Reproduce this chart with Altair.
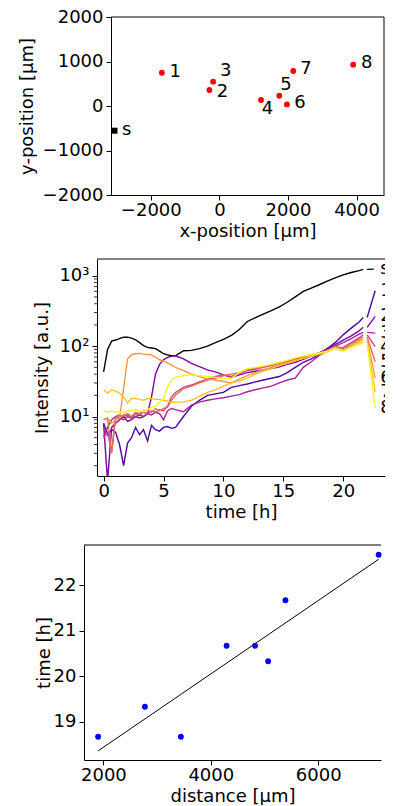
import altair as alt
import pandas as pd

FONT = "DejaVu Sans"
FS = 18

# ---------------- panel 1 : positions ----------------
site_names = ["s", "1", "2", "3", "4", "5", "6", "7", "8"]
site_kind = ["source"] + ["site"] * 8
site_x = [-3058, -1677, -291, -183, 1214, 1747, 1971, 2155, 3902]
site_y = [-555, 748, 360, 546, 135, 231, 36, 787, 928]
site_label_x = [-2842, -1456, -76, 20, 1235, 1776, 2184, 2359, 4126]
site_label_y = [-548, 771, 306, 786, -76, 471, 58, 831, 962]

# ---------------- panel 2 : intensity traces ----------------
T = [0, 0.33, 0.67, 1, 1.33, 1.67, 2, 2.33, 2.67, 3, 3.33, 3.67, 4, 4.33, 4.67, 5, 5.33, 5.67, 6,
     6.67, 7.33, 8, 8.67, 9.33, 10, 10.67, 11.33, 12, 12.67, 13.33, 14, 14.67, 15.33, 16, 16.67,
     17.33, 18, 18.67, 19.33, 20, 20.67, 21.33, 21.67]
I_s = [43, 90, 118, 122, 128, 134, 134, 130, 123, 112, 102, 96, 94, 92, 85, 78, 75, 73, 73,
       86, 87, 92, 100, 112, 125, 142, 172, 224, 255, 285, 320, 360, 420, 500, 600, 665, 745, 840,
       930, 1030, 1110, 1180, 1230]
I_1 = [8, 5.5, 6.5, 6, 4, 2, 4.2, 5, 7, 5.5, 6.5, 4.5, 7.5, 6.5, 6.2, 7, 7.2, 6.8, 7,
       10, 14, 17, 20, 21, 22, 26, 27.5, 29, 31, 33, 35, 37, 42, 50, 59, 66, 76, 92, 112, 145, 180, 220, 255]
I_2 = [8, 1.2, 7, 8, 9, 10, 8.5, 9, 10, 9.5, 10, 11, 19, 40, 55, 64, 69, 72, 73,
       66, 57, 51, 46, 43, 39, 36, 39, 42, 44, 46, 48, 51, 55, 59, 65, 72, 80, 92, 105, 122, 140, 165, 185]
I_3 = [5.2, 7, 9, 10, 9.5, 9, 10, 9.5, 10, 10.5, 10, 11, 10.5, 11.5, 11, 9, 12, 13, 12.5,
       11.7, 14.5, 16, 17, 17.8, 18.5, 19.5, 20.5, 22.5, 24, 25.5, 27, 30, 33, 35, 50, 60, 74, 86, 100, 112, 128, 148, 157]
I_4 = [4.9, 6, 3.2, 10, 10.5, 10, 10.5, 9.5, 11, 10.5, 11.5, 11, 12, 11.5, 12.5, 12, 14, 19, 22,
       26, 28, 31, 34, 37, 39, 37, 41, 45, 47, 50, 53, 57, 60, 64, 69, 74, 80, 87, 97, 95, 112, 132, 145]
I_5 = [9, 9.5, 3.0, 9.5, 10, 10.5, 11, 10, 11.5, 11, 12, 12.5, 11.5, 13, 12, 13, 13.5, 17, 20,
       25, 27, 30, 33, 35, 38, 40, 42, 46, 49, 51, 54, 58, 62, 66, 70, 74, 79, 86, 98, 92, 108, 125, 135]
I_6 = [9, 9.5, 8, 9, 9.5, 25, 66, 75, 78, 79, 77, 76, 75, 70, 64, 61, 58, 54, 50,
       45, 40, 37, 34, 33, 31.5, 30, 34, 38, 42, 46, 50, 55, 58, 63, 67, 72, 77, 84, 95, 88, 102, 118, 125]
I_7 = [24, 21.5, 24, 23, 21.5, 19, 15.5, 18, 18, 17.5, 17, 18, 18, 17.5, 17.5, 17, 16.5, 15.8, 16,
       16, 17, 19.5, 22, 24, 27, 30, 32, 35, 40, 44, 48, 53, 57, 62, 67, 72, 77, 83, 92, 85, 98, 110, 115]
I_8 = [12, 11.5, 12, 11.5, 11.7, 11.5, 12, 12.2, 12.5, 12, 11.7, 12.5, 13.5, 14, 16, 18, 26, 33, 36,
       38, 39, 38, 37, 36, 34.5, 35, 42, 48, 50, 52, 55, 59, 63, 68, 72, 76, 80, 85, 94, 86, 96, 106, 110]
series_names = ["s", "1", "2", "3", "4", "5", "6", "7", "8"]
series_values = [I_s, I_1, I_2, I_3, I_4, I_5, I_6, I_7, I_8]
series_colors = ["#000000", "#4b03a1", "#7d03a8", "#a82296", "#cc4778",
                 "#e56b5d", "#f89540", "#fcc42a", "#f0f921"]
label_values = [1240, 612, 264, 153, 98.6, 60, 35, 22.5, 13.2]
leader_t0 = [22.0] * 9
leader_t1 = [22.55, 22.67, 22.67, 22.67, 22.67, 22.67, 22.67, 22.67, 22.67]
label_t = [23.1] * 9
log_major = [10, 100, 1000]
log_minor = [2, 3, 4, 5, 6, 7, 8, 9, 20, 30, 40, 50, 60, 70, 80, 90,
             200, 300, 400, 500, 600, 700, 800, 900]

# ---------------- panel 3 : arrival time vs distance ----------------
distance = [1901, 2773, 3443, 4294, 4824, 5068, 5390, 7125]
arrival = [18.67, 19.33, 18.67, 20.67, 20.67, 20.33, 21.67, 22.67]

# ---------------- geometry ----------------
W1, H1 = 273, 178
W2, H2 = 288, 217
W3, H3 = 297, 215
PXH2 = 11.98          # pixels per hour, panel 2
PXU3 = 107.4 / 2000   # pixels per micrometre, panel 3

one = pd.DataFrame({"k": [0]})


def frame_top(w):
    return alt.Chart(one).mark_rule(color="black", strokeWidth=1).encode(
        x=alt.value(0), x2=alt.value(w), y=alt.value(0))


# ---- panel 1
df1 = pd.DataFrame({"name": site_names, "kind": site_kind, "x": site_x, "y": site_y,
                    "lx": site_label_x, "ly": site_label_y})
xs1 = alt.Scale(domain=[-3160, 4800], nice=False, zero=False)
ys1 = alt.Scale(domain=[-2000, 2000], nice=False, zero=False)
x1ax = alt.Axis(values=[-2000, 0, 2000, 4000], format="d", title="x-position [μm]",
                titlePadding=3, labelPadding=1)
y1ax = alt.Axis(values=[-2000, -1000, 0, 1000, 2000], format="d", title="y-position [μm]",
                titlePadding=5.3)
b1 = alt.Chart(df1)
p1_sites = b1.transform_filter("datum.kind == 'site'").mark_circle(
    color="red", size=34, opacity=1).encode(
    x=alt.X("x:Q", scale=xs1, axis=x1ax), y=alt.Y("y:Q", scale=ys1, axis=y1ax))
p1_src = b1.transform_filter("datum.kind == 'source'").mark_square(
    color="black", size=36, opacity=1).encode(
    x=alt.X("x:Q", scale=xs1, axis=x1ax), y=alt.Y("y:Q", scale=ys1, axis=y1ax))
p1_text = b1.mark_text(align="left", baseline="middle", font=FONT, fontSize=FS,
                       color="black").encode(
    x=alt.X("lx:Q", scale=xs1, axis=x1ax), y=alt.Y("ly:Q", scale=ys1, axis=y1ax),
    text="name:N")
p1_right = alt.Chart(one).mark_rule(color="black", strokeWidth=1).encode(
    x=alt.value(W1), y=alt.value(0), y2=alt.value(H1))
p1 = alt.layer(p1_sites, p1_src, p1_text, frame_top(W1), p1_right).properties(
    width=W1, height=H1)

# ---- panel 2
rows = []
for name, vals in zip(series_names, series_values):
    for t, v in zip(T, vals):
        rows.append({"series": name, "t": t, "v": v})
df2 = pd.DataFrame(rows)
df2_lead = pd.DataFrame({"series": series_names,
                         "t0": leader_t0, "t1": leader_t1,
                         "v0": [vals[-1] for vals in series_values],
                         "v1": label_values,
                         "lt": label_t})
df2_minor = pd.DataFrame({"m": log_minor})

x2_left = -6.6 / PXH2
xs2 = alt.Scale(domain=[x2_left, x2_left + W2 / PXH2], nice=False, zero=False)
ys2 = alt.Scale(type="log", domain=[1.429, 1729], nice=False)
cs2 = alt.Scale(domain=series_names, range=series_colors)
x2ax = alt.Axis(values=[0, 5, 10, 15, 20], format="d", title="time [h]",
                titlePadding=3, labelPadding=1)
y2ax = alt.Axis(values=log_major, title="Intensity [a.u.]", titlePadding=7,
                labelExpr="datum.value == 10 ? '10¹' : datum.value == 100 ? '10²' : '10³'")

p2_lines = alt.Chart(df2).mark_line(strokeWidth=1.4, clip=True).encode(
    x=alt.X("t:Q", scale=xs2, axis=x2ax),
    y=alt.Y("v:Q", scale=ys2, axis=y2ax),
    color=alt.Color("series:N", scale=cs2, legend=None, sort=series_names))
p2_lead = alt.Chart(df2_lead).mark_rule(strokeWidth=1.4, clip=True).encode(
    x=alt.X("t0:Q", scale=xs2, axis=x2ax), x2="t1:Q",
    y=alt.Y("v0:Q", scale=ys2, axis=y2ax), y2="v1:Q",
    color=alt.Color("series:N", scale=cs2, legend=None))
p2_text = alt.Chart(df2_lead).mark_text(align="left", baseline="middle", font=FONT,
                                        fontSize=FS, color="black", clip=True).encode(
    x=alt.X("lt:Q", scale=xs2, axis=x2ax),
    y=alt.Y("v1:Q", scale=ys2, axis=y2ax),
    text="series:N")
p2_minor = alt.Chart(df2_minor).mark_rule(color="black", strokeWidth=0.8).encode(
    x=alt.value(-3), x2=alt.value(0),
    y=alt.Y("m:Q", scale=ys2, axis=y2ax))
p2 = alt.layer(p2_lines, p2_lead, p2_text, p2_minor, frame_top(W2)).properties(
    width=W2, height=H2)

# ---- panel 3
df3 = pd.DataFrame({"d": distance, "tt": arrival})
x3_left = 2000 - 19.4 / PXU3
xs3 = alt.Scale(domain=[x3_left, x3_left + W3 / PXU3], nice=False, zero=False)
ys3 = alt.Scale(domain=[18.16, 22.884], nice=False, zero=False)
x3ax = alt.Axis(values=[2000, 4000, 6000], format="d", title="distance [μm]",
                titlePadding=3, labelPadding=1)
y3ax = alt.Axis(values=[19, 20, 21, 22], format="d", title="time [h]", titlePadding=0)
p3_pts = alt.Chart(df3).mark_circle(color="blue", size=34, opacity=1).encode(
    x=alt.X("d:Q", scale=xs3, axis=x3ax), y=alt.Y("tt:Q", scale=ys3, axis=y3ax))
p3_fit = alt.Chart(df3).transform_regression("d", "tt").mark_line(
    color="black", strokeWidth=1).encode(
    x=alt.X("d:Q", scale=xs3, axis=x3ax), y=alt.Y("tt:Q", scale=ys3, axis=y3ax))
p3 = alt.layer(p3_fit, p3_pts, frame_top(W3)).properties(width=W3, height=H3)


def spacer(w):
    return alt.Chart(one).mark_point(size=1, opacity=0).encode(
        x=alt.value(0), y=alt.value(0)).properties(width=w, height=1)


row1 = alt.hconcat(spacer(9), p1, spacing=0)
row2 = alt.hconcat(spacer(24), p2, spacing=0)
row3 = alt.hconcat(spacer(25.5), p3, spacing=0)

top = alt.vconcat(row1, row2, spacing=18)
chart = alt.vconcat(top, row3, spacing=23).properties(
    padding={"left": 0, "top": 0, "right": 0, "bottom": 0}
).configure_view(strokeWidth=0).configure_axis(
    labelFont=FONT, labelFontSize=FS, titleFont=FONT, titleFontSize=FS,
    titleFontWeight="normal", labelColor="black", titleColor="black",
    domainColor="black", tickColor="black", tickSize=5, labelPadding=3,
    grid=False, domainWidth=1, tickWidth=1
).configure_concat(spacing=0)

chart.save("out.html", embed_options={"renderer": "svg", "actions": False})
